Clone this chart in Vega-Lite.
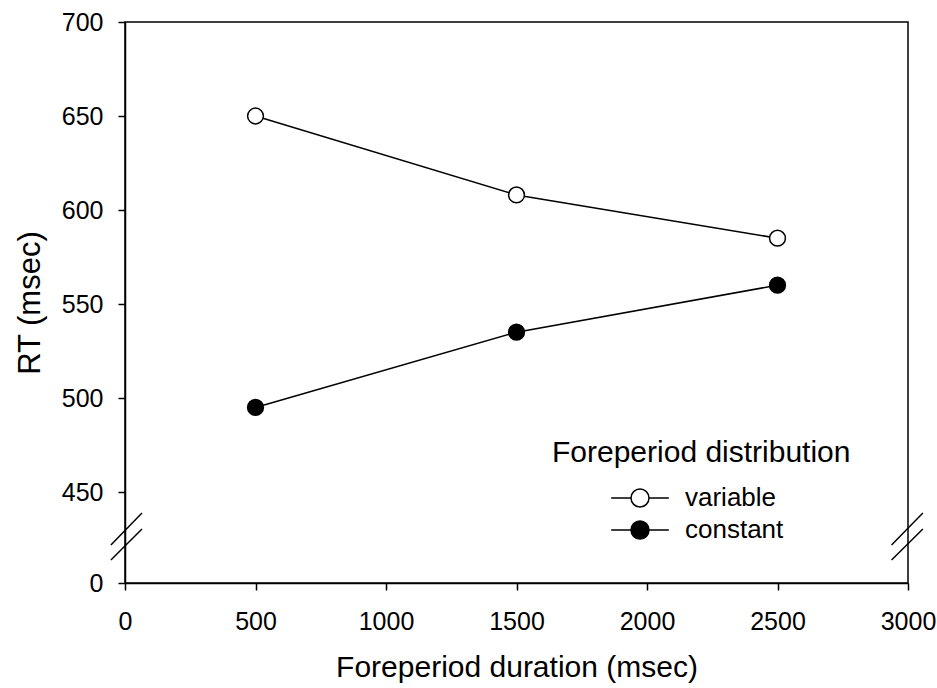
{
  "$schema": "https://vega.github.io/schema/vega-lite/v6.json",
  "width": 783,
  "height": 561,
  "autosize": {"type": "none"},
  "padding": {"left": 125, "top": 22, "right": 29, "bottom": 105},
  "background": "white",
  "config": {
    "font": "Liberation Sans",
    "view": {"stroke": "black", "strokeWidth": 1.5},
    "axis": {
      "domainColor": "black", "domainWidth": 1.5,
      "tickColor": "black", "tickWidth": 1.5, "tickSize": 7,
      "labelColor": "black", "titleColor": "black",
      "labelFontSize": 25, "titleFontSize": 30, "titleFontWeight": "normal",
      "labelFont": "Liberation Sans", "titleFont": "Liberation Sans",
      "grid": false
    },
    "legend": {
      "titleFont": "Liberation Sans", "labelFont": "Liberation Sans",
      "titleFontSize": 30, "titleFontWeight": "normal", "titleColor": "black",
      "labelFontSize": 26, "labelColor": "black", "titleLimit": 500, "labelLimit": 300
    }
  },
  "datasets": {
    "series": [
      {"dur": 500, "rt": 650, "dist": "variable"},
      {"dur": 1500, "rt": 608, "dist": "variable"},
      {"dur": 2500, "rt": 585, "dist": "variable"},
      {"dur": 500, "rt": 495, "dist": "constant"},
      {"dur": 1500, "rt": 535, "dist": "constant"},
      {"dur": 2500, "rt": 560, "dist": "constant"}
    ],
    "breaks": [
      {"bx": -54, "bx2": 65, "by": 421.8, "by2": 438.8},
      {"bx": -54, "bx2": 65, "by": 413.8, "by2": 430.3},
      {"bx": 2937, "bx2": 3057, "by": 421.8, "by2": 438.8},
      {"bx": 2937, "bx2": 3057, "by": 413.8, "by2": 430.3}
    ]
  },
  "layer": [
    {
      "data": {"name": "series"},
      "mark": {"type": "line", "color": "black", "strokeWidth": 1.5},
      "encoding": {
        "x": {
          "field": "dur", "type": "quantitative",
          "scale": {"domain": [0, 3000], "nice": false, "zero": false},
          "axis": {"values": [0, 500, 1000, 1500, 2000, 2500, 3000], "format": "d", "title": "Foreperiod duration (msec)", "labelPadding": 19, "titlePadding": 18, "labelFlush": false}
        },
        "y": {
          "field": "rt", "type": "quantitative",
          "scale": {"domain": [401.6, 700], "nice": false, "zero": false},
          "axis": {
            "values": [401.6, 450, 500, 550, 600, 650, 700],
            "labelExpr": "datum.value < 420 ? '0' : format(datum.value, 'd')",
            "title": "RT (msec)", "titleFontSize": 31, "labelPadding": 15, "titlePadding": 15, "labelFlush": false
          }
        },
        "detail": {"field": "dist", "type": "nominal"}
      }
    },
    {
      "data": {"name": "series"},
      "mark": {"type": "circle", "size": 250, "stroke": "black", "strokeWidth": 1.5, "opacity": 1},
      "encoding": {
        "x": {"field": "dur", "type": "quantitative", "title": "Foreperiod duration (msec)"},
        "y": {"field": "rt", "type": "quantitative", "title": "RT (msec)"},
        "fill": {
          "field": "dist", "type": "nominal",
          "scale": {"domain": ["variable", "constant"], "range": ["white", "black"]},
          "legend": {
            "title": "Foreperiod distribution",
            "orient": "none", "legendX": 427, "legendY": 416,
            "padding": 0,
            "symbolType": "M-3.2,0H-1M1,0H3.2M1,0A1,1,0,1,1,-1,0A1,1,0,1,1,1,0Z",
            "symbolSize": 324,
            "symbolStrokeColor": "black", "symbolStrokeWidth": 1.5,
            "symbolOffset": 75, "labelOffset": 32,
            "rowPadding": 6, "titlePadding": 17
          }
        }
      }
    },
    {
      "data": {"name": "breaks"},
      "mark": {"type": "rule", "color": "black", "strokeWidth": 1.5},
      "encoding": {
        "x": {"field": "bx", "type": "quantitative", "title": "Foreperiod duration (msec)"},
        "x2": {"field": "bx2"},
        "y": {"field": "by", "type": "quantitative", "title": "RT (msec)"},
        "y2": {"field": "by2"}
      }
    }
  ]
}
